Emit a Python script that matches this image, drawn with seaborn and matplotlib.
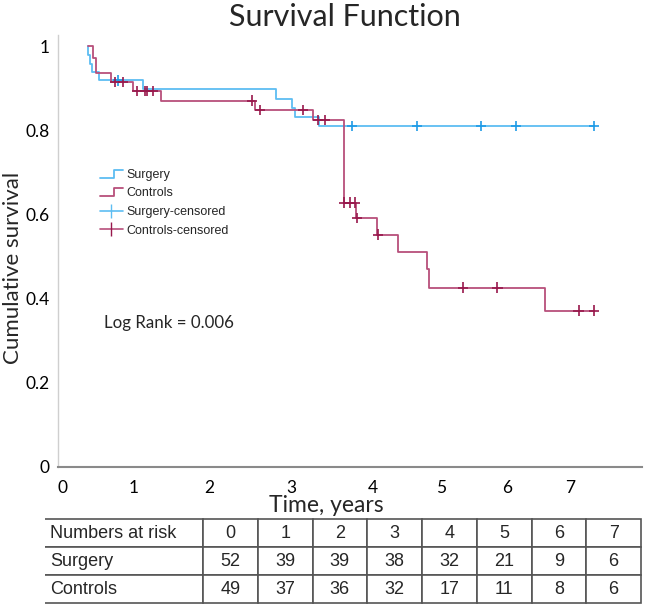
import matplotlib
matplotlib.use("Agg")
import matplotlib.pyplot as plt
from matplotlib.lines import Line2D
from matplotlib.legend_handler import HandlerBase
import numpy as np
import pandas as pd
import seaborn as sns

# Kaplan-Meier step values (time in years, survival after the step)
surgery_time = [0.34, 0.35, 0.37, 0.40, 0.50, 1.11, 2.94, 3.16, 3.20, 3.53, 7.33]
surgery_surv = [1.0, 0.979, 0.959, 0.939, 0.919, 0.898, 0.875, 0.854, 0.833, 0.811, 0.811]
controls_time = [0.34, 0.42, 0.46, 0.66, 0.96, 1.36, 2.65, 3.45, 3.88, 4.05, 4.34,
                 4.63, 5.03, 5.06, 6.66, 7.33]
controls_surv = [1.0, 0.973, 0.937, 0.915, 0.894, 0.871, 0.848, 0.824, 0.628, 0.592, 0.552,
                 0.510, 0.469, 0.426, 0.371, 0.371]

# censored observations
surgery_cens_time = [0.76, 3.99, 4.89, 5.77, 6.26, 7.33]
surgery_cens_surv = [0.919, 0.811, 0.811, 0.811, 0.811, 0.811]
controls_cens_time = [0.72, 0.83, 1.02, 1.13, 1.16, 1.24, 2.61, 2.72, 3.31, 3.52, 3.62,
                      3.88, 3.97, 4.03, 4.06, 4.35, 5.52, 6.00, 7.12, 7.33]
controls_cens_surv = [0.915, 0.915, 0.894, 0.894, 0.894, 0.894, 0.871, 0.848, 0.848, 0.824, 0.824,
                      0.628, 0.628, 0.628, 0.592, 0.552, 0.426, 0.426, 0.371, 0.371]

groups = ["Surgery", "Controls"]
# x tick labels as they sit under the axis in the original figure
xtick_pos = [0, 0.98, 2.02, 3.15, 4.28, 5.22, 6.13, 7.0]
xtick_labels = ["0", "1", "2", "3", "4", "5", "6", "7"]
ytick_pos = [0, 0.2, 0.4, 0.6, 0.8, 1.0]
ytick_labels = ["0", "0.2", "0.4", "0.6", "0.8", "1"]

risk_header = ["Numbers at risk", "0", "1", "2", "3", "4", "5", "6", "7"]
risk_surgery = [52, 39, 39, 38, 32, 21, 9, 6]
risk_controls = [49, 37, 36, 32, 17, 11, 8, 6]

line_colors = {"Surgery": "#5dbdf2", "Controls": "#b84f7b"}
mark_colors = {"Surgery": "#1f9be6", "Controls": "#98184c"}

curves = pd.concat([
    pd.DataFrame({"time": surgery_time, "surv": surgery_surv, "group": "Surgery"}),
    pd.DataFrame({"time": controls_time, "surv": controls_surv, "group": "Controls"}),
])
censored = pd.concat([
    pd.DataFrame({"time": surgery_cens_time, "surv": surgery_cens_surv, "group": "Surgery"}),
    pd.DataFrame({"time": controls_cens_time, "surv": controls_cens_surv, "group": "Controls"}),
])

sns.set_theme(style="white")
plt.rcParams["font.family"] = ["Lato", "DejaVu Sans"]

fig = plt.figure(figsize=(6.5, 6.07), dpi=100)
ax = fig.add_axes([58 / 650, (607 - 466.5) / 607, 584 / 650, 431.5 / 607])

sns.lineplot(data=curves, x="time", y="surv", hue="group", palette=line_colors,
             drawstyle="steps-post", estimator=None, sort=False, legend=False,
             linewidth=1.3, ax=ax)
sns.scatterplot(data=censored, x="time", y="surv", hue="group", palette=mark_colors,
                marker="+", s=55, linewidth=1.2, legend=False, ax=ax, zorder=3)

ax.set_xlim(-0.069, 7.996)
ax.set_ylim(0, 1.027)
ax.set_xticks(xtick_pos)
ax.set_xticklabels(xtick_labels)
ax.set_yticks(ytick_pos)
ax.set_yticklabels(ytick_labels)
ax.tick_params(axis="x", length=0, pad=10, labelsize=12.5, colors="black")
ax.tick_params(axis="y", length=0, pad=6, labelsize=12.5, colors="black")
ax.set_xlabel("")
ax.set_ylabel("")
for side in ["top", "right"]:
    ax.spines[side].set_visible(False)
ax.spines["left"].set_color("#cfcfcf")
ax.spines["left"].set_linewidth(1.0)
ax.spines["bottom"].set_color("#8a8a8a")
ax.spines["bottom"].set_linewidth(1.5)

fig.text(345 / 650, 1 - 17 / 607, "Survival Function", fontsize=22, ha="center", va="center")
fig.text(13 / 650, 1 - 268 / 607, "Cumulative survival", fontsize=16, rotation=90,
         ha="center", va="center")
fig.text(326 / 650, 1 - 506 / 607, "Time, years", fontsize=16.5, ha="center", va="center")

ax.text(0.57, 0.341, "Log Rank = 0.006", fontsize=12.2, va="center", ha="left")


class StepHandler(HandlerBase):
    def create_artists(self, legend, orig_handle, xdescent, ydescent, width, height,
                       fontsize, trans):
        x0, y0 = -xdescent, -ydescent
        xm = x0 + 0.62 * width
        line = Line2D([x0, xm, xm, x0 + width],
                      [y0 + 0.05 * height, y0 + 0.05 * height, y0 + 0.95 * height, y0 + 0.95 * height],
                      color=orig_handle.get_color(), lw=orig_handle.get_linewidth())
        line.set_transform(trans)
        return [line]


h_surg = Line2D([], [], color=line_colors["Surgery"], lw=1.3)
h_ctrl = Line2D([], [], color=line_colors["Controls"], lw=1.3)
h_surg_c = Line2D([], [], color=line_colors["Surgery"], lw=1.2, marker="|", markersize=10)
h_ctrl_c = Line2D([], [], color=line_colors["Controls"], lw=1.2, marker="|", markersize=10,
                  markeredgecolor=mark_colors["Controls"])
leg = ax.legend([h_surg, h_ctrl, h_surg_c, h_ctrl_c],
                ["Surgery", "Controls", "Surgery-censored", "Controls-censored"],
                handler_map={h_surg: StepHandler(), h_ctrl: StepHandler()},
                loc="upper left", bbox_to_anchor=(100 / 650, 1 - 169 / 607),
                bbox_transform=fig.transFigure, frameon=False, borderpad=0, borderaxespad=0,
                handlelength=1.8, handletextpad=0.3, labelspacing=0.52,
                prop={"family": "Liberation Sans", "size": 9})

# numbers-at-risk table
ax_t = fig.add_axes([45 / 650, 4 / 607, 596 / 650, 84 / 607])
ax_t.axis("off")
cell_text = [risk_header,
             ["Surgery"] + [str(v) for v in risk_surgery],
             ["Controls"] + [str(v) for v in risk_controls]]
col_w = [158] + [54.75] * 8
col_w = [w / sum(col_w) for w in col_w]
tab = ax_t.table(cellText=cell_text, colWidths=col_w, bbox=[0, 0, 1, 1], cellLoc="center")
tab.auto_set_font_size(False)
for (r, c), cell in tab.get_celld().items():
    cell.set_edgecolor("#555555")
    cell.set_linewidth(1.2)
    txt = cell.get_text()
    txt.set_fontfamily("Liberation Sans")
    txt.set_fontsize(13)
    if c == 0:
        cell.PAD = 0.03
        txt.set_horizontalalignment("left")
        cell.visible_edges = "TRB"

fig.savefig("out.png", dpi=100)
